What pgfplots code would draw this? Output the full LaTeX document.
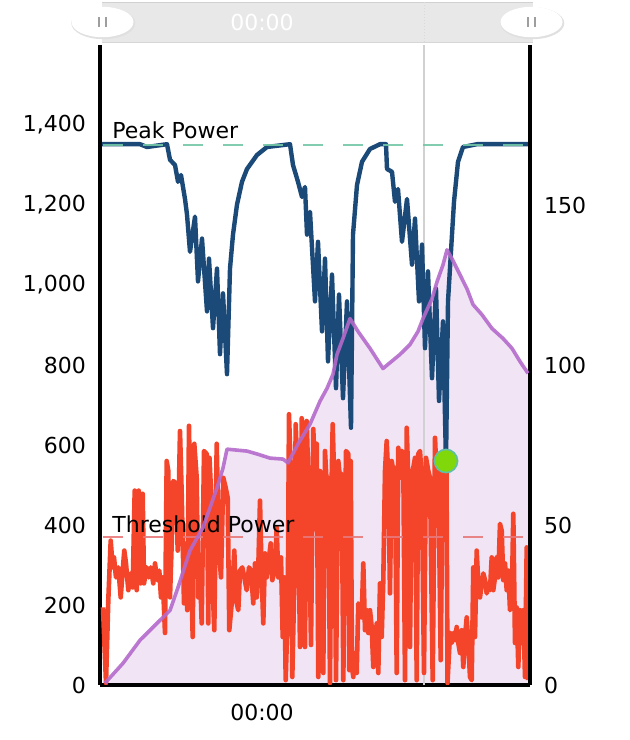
\documentclass[border=0pt]{standalone}
\usepackage{pgfplots}
\pgfplotsset{compat=1.18}
\usepackage{pgfplotstable}
\usepackage{fontspec}
\setmainfont{DejaVu Sans}

\definecolor{pblue}{HTML}{1B4A78}
\definecolor{porange}{HTML}{F4442A}
\definecolor{ppurple}{HTML}{B46ACB}
\definecolor{pfill}{HTML}{F1E4F5}
\definecolor{pteal}{HTML}{74C7A7}
\definecolor{pred}{HTML}{E8797A}
\definecolor{pgreen}{HTML}{80D80A}
\definecolor{pring}{HTML}{5FBFA8}

\pgfplotstableread{
x y
3 194
6 5
8.3 212
10.7 361
12.7 294
14 319
16 269
18.3 294
20.7 219
22.7 286
24.3 336
26 304
28.3 237
30.7 279
32.7 244
34.7 486
36.7 237
38.7 486
40.7 254
42.7 478
44 254
46.7 294
48.7 269
50.7 294
53.3 254
55 304
57.3 262
59.3 286
61 219
62.7 269
65 130
66.7 560
68.3 535
70 219
71.7 354
73.3 510
76 503
77.7 336
80 635
81.7 478
84 204
86 354
87.3 187
89 648
91 294
92.7 120
94.3 603
96.7 518
98.3 219
100 286
101.7 154
104 585
106.7 578
108.3 154
109.5 568
111 486
112.3 269
114.3 137
116.7 603
119 336
121 269
123.3 518
125.7 493
127.7 468
129.3 137
131.7 204
134.3 336
136 212
138.3 187
140 286
142.3 294
144.3 269
146.7 237
149 294
151 286
153.3 204
155 304
156.7 219
158.3 294
160 461
161.7 269
163.3 154
165 329
166.7 269
168.3 304
170.7 354
172.3 262
175 294
176.7 394
178.3 269
181 319
182.7 120
184.3 269
185.7 12
187.7 187
189 677
191 518
192.3 20
194.3 254
195.7 652
197.7 518
200 95
201.7 667
203.3 535
205 95
206.7 660
208.3 518
211 100
213.3 640
215 518
216.7 603
218.3 20
220 535
221.7 518
223.3 30
225 585
226.7 503
228.3 518
230 5
231.7 518
232.7 652
234.3 503
236 12
238.3 560
240 518
241.7 528
243.3 12
246 585
248.3 578
249.3 37
250.7 560
252 45
253.3 20
255 80
256.7 30
258.3 204
260 187
261.7 169
263.3 304
265 137
266.7 187
268.3 130
270 187
271.7 145
273.3 45
275 105
276.7 154
278.3 30
280 254
281.7 120
283.3 262
285 535
286.7 610
288.3 518
290 229
291.7 560
293.3 535
295 543
296.7 30
298.3 593
300 518
301.7 585
303.3 560
305 12
306.7 643
308.3 518
310 95
311.7 518
313.3 543
315 568
316.7 12
318.3 578
320 585
321.7 518
324 30
326 568
328.3 535
330 518
332.7 12
335 618
336.7 518
338.3 543
340.7 62
342.7 535
345 560
346.5 540
347.5 5
350 130
351.7 105
353.3 130
355 112
356.7 145
358.3 105
360 80
361.7 137
363.3 45
365 120
366.7 169
368.3 105
370 20
371.7 12
373.3 294
375 120
376.7 336
378.3 254
380 219
381.7 254
383.3 279
385 262
386.7 229
388.3 254
390 237
391.7 319
393.3 237
395 269
396.7 319
398.3 269
400 403
401.7 386
403.3 262
405 304
406.7 237
408.3 286
410 187
411.7 204
413.3 428
415 105
416.7 194
418.3 45
420 187
421.7 105
423.3 187
425 20
426.7 344
428.3 12
}\orangetab

\pgfplotstableread{
x y
2 1352
40 1352
47 1345
67 1352
70 1313
75 1300
78 1258
81 1275
85 1215
87 1176
90 1083
95 1171
98 1009
102 1116
107 934
109 1066
113 892
117 1041
120 827
123 979
127 777
130 1041
133 1126
137 1201
142 1258
147 1290
157 1325
167 1345
190 1352
193 1300
198 1258
202 1220
205 1245
207 1126
210 1183
215 959
218 1108
222 884
225 1066
228 809
232 1026
236 742
239 976
243 717
247 959
251 643
253 1126
257 1250
262 1308
270 1340
280 1352
286 1352
287 1290
292 1283
295 1208
298 1240
302 1108
307 1215
312 1051
315 1166
319 959
322 1101
325 842
328 1034
332 767
336 991
339 710
343 909
346 553
348 959
352 1126
354 1208
358 1308
363 1345
377 1352
428 1352
}\bluetab

\pgfplotstableread{
x y
5 0.6
23 6.8
40 14.0
57 19.3
70 23.3
78 30.5
90 42.0
103 49.2
117 61.6
123 67.8
127 73.7
147 73.1
157 72.2
170 70.9
183 70.6
188 69.4
198 75.3
210 81.5
220 88.7
227 92.7
233 97.1
237 103.3
243 108.3
250 114.5
258 110.5
270 105.2
283 98.9
288 100.2
300 103.3
310 106.4
318 110.5
323 114.5
332 120.7
337 126.0
343 131.3
347 136.0
352 133.2
360 128.2
367 123.8
373 118.9
382 115.7
392 111.4
403 108.3
412 105.2
420 101.1
428 97.4
}\purpletab

\pgfplotsset{
  base/.style={scale only axis, width=215pt, height=320pt,
    xmin=0, xmax=430, at={(50pt,27.5pt)}, anchor=south west,
    major tick length=0pt,
    tick label style={font=\fontsize{11}{13}\selectfont},
    /pgf/number format/assume math mode=true,
    /pgf/number format/1000 sep={,}},
}

\begin{document}
\begin{tikzpicture}[x=1pt,y=1pt]
\useasboundingbox (0,0) rectangle (315,370);

% area fill (right axis scale)
\begin{axis}[base, hide axis, ymin=0, ymax=200]
  \addplot[draw=none, fill=pfill] table[x=x,y=y]{\purpletab} \closedcycle;
\end{axis}

% main left axis
\begin{axis}[base, ymin=0, ymax=1600,
  axis x line*=bottom, axis y line*=left,
  axis line style={line width=2pt, black},
  ytick={0,200,...,1400},
  xtick={162}, xticklabels={00:00},
  yticklabel style={xshift=-3.5pt},
  xticklabel style={yshift=-6pt},
  clip=true]
  \draw[color=black!18, line width=0.6pt] (axis cs:324,0) -- (axis cs:324,1600);
  \addplot[porange, line width=2.3pt, line join=round] table[x=x,y=y]{\orangetab};
  \addplot[pblue, line width=2.2pt, line join=round] table[x=x,y=y]{\bluetab};
  \addplot[pteal, line width=1pt, dash pattern=on 10pt off 10pt, opacity=0.9] coordinates {(3,1350) (430,1350)};
  \addplot[pred, line width=1pt, dash pattern=on 10pt off 10pt, opacity=0.9] coordinates {(3,370) (430,370)};
  \node[anchor=base west, inner sep=0pt, font=\fontsize{11}{13}\selectfont] at (axis cs:12,1365) {Peak Power};
  \node[anchor=base west, inner sep=0pt, font=\fontsize{11}{13}\selectfont] at (axis cs:12,381) {Threshold Power};
\end{axis}

% right axis with purple line
\begin{axis}[base, ymin=0, ymax=200,
  axis y line*=right, axis x line=none,
  axis line style={line width=2pt, black},
  ytick={0,50,100,150},
  yticklabel style={xshift=3.5pt}]
  \addplot[ppurple, line width=1.8pt, opacity=0.9, line join=round] table[x=x,y=y]{\purpletab};
\end{axis}

% current point marker
\begin{axis}[base, hide axis, ymin=0, ymax=1600]
  \addplot[only marks, mark=*, mark size=5.8pt, mark options={fill=pgreen, draw=pring, line width=0.8pt}] coordinates {(346,560)};
\end{axis}

% navigator bar on top
\fill[black!9] (51,348.5) rectangle (266.5,369);
\draw[black!18, line width=0.6pt] (51,368.7) -- (266.5,368.7);
\draw[black!16, line width=0.6pt] (51,348.8) -- (266.5,348.8);
\draw[black!15, line width=0.5pt, densely dotted] (212,349) -- (212,369);
\node[text=white, font=\fontsize{11}{13}\selectfont] at (131,359) {00:00};
\foreach \cx in {51.25,265.75}{
  \fill[black!12] (\cx+0.4,358.4) ellipse (16 and 8);
  \fill[white] (\cx,359) ellipse (15.5 and 7.6);
  \fill[black!38] (\cx-2.2,356.5) rectangle (\cx-1.2,361.5);
  \fill[black!38] (\cx+1.2,356.5) rectangle (\cx+2.2,361.5);
}
\end{tikzpicture}
\end{document}
